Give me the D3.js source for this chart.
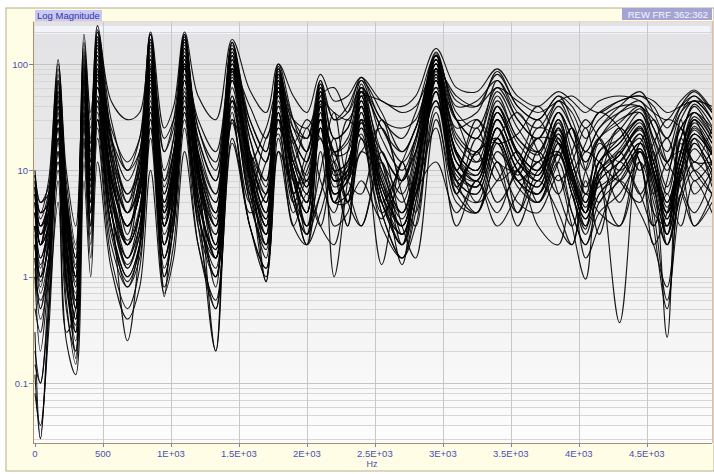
<!DOCTYPE html>
<html lang="en">
<head>
<meta charset="UTF-8">
<script src="https://d3js.org/d3.v7.min.js"></script>
<title>Log Magnitude</title>
<style>
  body { margin: 0; background: #ffffff; }
  svg { display: block; font-family: "Liberation Sans", Arial, sans-serif; }
</style>
</head>
<body>
<div id="chart"></div>
<script>
// frequency grid (Hz) shared by every measured FRF
const freqHz = [0, 40, 100, 170, 230, 300, 360, 410,
  460, 560, 680, 770, 850, 950, 1020, 1100,
  1200, 1330, 1450, 1580, 1700, 1790, 1900, 2000,
  2100, 2200, 2300, 2400, 2550, 2700, 2800, 2950,
  3100, 3250, 3400, 3550, 3700, 3850, 3950, 4050,
  4150, 4300, 4450, 4550, 4650, 4750, 4850, 4980];

// magnitudes, one row per FRF
const responses = [
  [9, 4, 8, 110, 10, 3, 70, 25, 230, 45, 30, 35, 200, 25, 40, 200, 50, 30, 170, 57, 35, 100, 50, 35, 80, 45, 50, 75, 45, 40, 50, 140, 60, 55, 90, 50, 40, 55, 45, 35, 45, 50, 45, 35, 30, 45, 57, 37],
  [6, 2, 5, 70, 6, 1.5, 190, 35, 120, 20, 8, 15, 150, 8, 20, 180, 25, 12, 140, 30, 15, 90, 25, 15, 65, 20, 25, 60, 25, 15, 25, 120, 35, 25, 60, 30, 20, 40, 25, 15, 25, 35, 40, 25, 15, 35, 50, 30],
  [0.3, 0.03, 0.5, 25, 2, 0.17, 40, 6, 50, 6, 1.2, 3, 90, 2, 6, 70, 8, 0.8, 80, 10, 2.5, 60, 8, 3, 10, 35, 8, 6, 30, 6, 3, 90, 10, 25, 8, 12, 30, 10, 3, 0.95, 10, 25, 12, 3, 8, 25, 10, 6],
  [2, 0.8, 2.5, 45, 3, 0.6, 90, 12, 160, 15, 2.5, 10, 110, 4, 12, 130, 12, 2, 100, 12, 4, 70, 10, 5, 45, 8, 10, 50, 7, 3, 10, 100, 15, 10, 40, 15, 10, 25, 10, 4, 12, 18, 30, 12, 4, 15, 30, 18],
  [10, 5, 6, 30, 4, 1, 60, 10, 100, 8, 3, 6, 80, 3, 10, 120, 10, 2, 120, 10, 3, 50, 12, 25, 8, 4, 15, 40, 5, 2, 8, 80, 6, 20, 10, 4, 15, 8, 12, 25, 8, 3, 15, 8, 0.27, 30, 10, 15],
  [1, 0.2, 1, 15, 0.8, 0.3, 25, 4, 60, 5, 0.25, 2, 50, 1.5, 4, 60, 5, 0.2, 50, 6, 1.5, 40, 6, 2, 30, 5, 5, 35, 4, 1.5, 4, 70, 8, 4, 15, 8, 5, 12, 4, 2, 5, 8, 15, 5, 2, 6, 12, 8],
  [4, 1.5, 3, 80, 5, 1.2, 120, 15, 180, 18, 4, 12, 160, 0.65, 8, 150, 14, 3, 130, 15, 0.9, 80, 12, 6, 55, 10, 12, 55, 10, 4, 12, 110, 18, 12, 40, 18, 12, 30, 12, 5, 12, 20, 30, 12, 5, 15, 35, 20],
  [3, 1, 2, 40, 2, 0.5, 50, 8, 80, 15, 6, 10, 70, 6, 15, 90, 20, 8, 90, 12, 25, 60, 18, 30, 20, 12, 30, 20, 12, 6, 15, 90, 25, 30, 18, 22, 40, 18, 10, 18, 35, 25, 10, 18, 30, 25, 12, 25],
  [7, 3, 4, 20, 1.5, 0.4, 35, 5, 45, 4, 1.5, 3, 40, 2, 5, 50, 4, 1, 40, 5, 2, 30, 3, 6, 3, 12, 5, 3, 15, 3, 1.5, 30, 6, 4, 12, 3, 8, 4, 2, 6, 4, 3, 12, 2, 4, 10, 3, 6],
  [0.15, 0.1, 0.8, 50, 3, 0.8, 80, 10, 140, 12, 2, 8, 130, 5, 10, 110, 10, 1.5, 110, 10, 3, 70, 9, 4, 40, 7, 9, 45, 6, 2.5, 8, 100, 14, 8, 35, 14, 8, 25, 9, 4, 10, 14, 25, 10, 3, 12, 25, 15],
  [5, 2, 4, 12, 1, 0.3, 20, 3, 30, 3, 1, 2, 30, 1, 3, 40, 3, 0.5, 30, 3, 1.2, 20, 4, 8, 3, 2, 6, 3, 12, 2.5, 6, 25, 3, 8, 4, 10, 3, 2, 6, 1.5, 3, 8, 4, 2, 0.8, 6, 3, 5],
  [2, 1, 2, 30, 3, 1, 40, 8, 70, 8, 3, 6, 60, 4, 8, 80, 10, 4, 70, 15, 8, 80, 20, 12, 70, 20, 25, 70, 20, 10, 20, 130, 30, 20, 70, 30, 20, 45, 25, 12, 20, 35, 45, 25, 12, 30, 45, 30],
  [8, 4, 5, 60, 5, 1.5, 90, 12, 150, 10, 4, 8, 100, 5, 12, 140, 12, 0.2, 110, 12, 4, 60, 10, 5, 40, 8, 10, 40, 6, 3, 8, 80, 10, 8, 25, 10, 6, 18, 8, 3, 8, 0.37, 18, 8, 3, 10, 20, 12],
  [1.5, 0.5, 1.5, 10, 0.6, 0.15, 15, 2, 25, 2, 0.8, 1.5, 20, 0.8, 2, 25, 2, 0.5, 20, 3, 1, 15, 6, 2, 4, 10, 3, 15, 8, 1.3, 6, 12, 4, 8, 3, 6, 12, 3, 2, 8, 2.5, 12, 6, 3, 6, 3, 8, 4],
  [6, 3, 5, 90, 8, 2, 140, 20, 200, 22, 5, 14, 190, 8, 15, 190, 15, 4, 160, 15, 5, 90, 15, 7, 60, 10, 12, 60, 8, 4, 10, 120, 15, 10, 40, 15, 10, 30, 12, 6, 15, 20, 35, 15, 6, 20, 40, 22],
  [0.08, 0.04, 0.3, 8, 0.5, 0.2, 12, 1.5, 20, 1.5, 0.5, 1.2, 25, 1, 3, 35, 3, 1, 35, 4, 6, 25, 10, 3, 6, 15, 5, 25, 10, 4, 10, 45, 6, 15, 5, 10, 20, 6, 3, 10, 20, 8, 5, 15, 2, 6, 20, 7],
  [3, 1.2, 3, 35, 2, 0.7, 55, 9, 90, 7, 2, 4, 80, 3, 8, 100, 8, 2, 90, 9, 3, 55, 8, 4, 35, 6, 8, 40, 5, 2.5, 7, 70, 10, 7, 25, 10, 7, 20, 8, 4, 8, 12, 22, 9, 4, 10, 22, 14],
  [9, 5, 7, 40, 3, 1, 70, 12, 60, 20, 10, 15, 100, 15, 25, 120, 25, 10, 100, 25, 12, 70, 20, 12, 55, 15, 18, 55, 15, 8, 18, 100, 22, 15, 50, 20, 15, 35, 20, 10, 20, 28, 40, 20, 10, 25, 35, 22],
  [0.5, 0.3, 1.5, 25, 0.3, 0.5, 35, 5, 70, 5, 2, 4, 60, 3, 6, 70, 6, 1.5, 60, 7, 2.5, 40, 20, 8, 30, 12, 5, 30, 15, 8, 20, 60, 30, 12, 20, 35, 15, 6, 15, 30, 20, 10, 18, 30, 12, 8, 18, 10],
  [4, 2, 3, 50, 4, 1, 75, 10, 110, 9, 3, 7, 90, 4, 10, 100, 10, 3, 90, 8, 0.9, 70, 8, 8, 40, 1, 8, 50, 6, 2, 7, 90, 12, 8, 30, 12, 8, 22, 8, 4, 10, 15, 25, 10, 4, 12, 28, 16],
  [2.5, 1, 2, 20, 1.2, 0.4, 30, 4, 40, 4, 1.5, 3, 35, 2, 4, 45, 5, 1.5, 45, 15, 6, 35, 6, 15, 30, 6, 8, 15, 25, 8, 15, 60, 9, 7, 25, 9, 20, 18, 7, 3.5, 8, 25, 12, 4, 3, 20, 12, 12],
  [5, 2, 4, 30, 3, 1, 50, 8, 80, 8, 3, 6, 70, 4, 8, 90, 12, 5, 90, 30, 15, 80, 30, 20, 70, 30, 35, 75, 30, 25, 30, 100, 45, 40, 80, 40, 30, 50, 40, 25, 35, 45, 50, 40, 25, 40, 50, 35],
  [0.2, 0.1, 0.5, 5, 0.25, 0.12, 8, 1, 12, 1.2, 0.4, 0.8, 10, 0.7, 1.5, 15, 2, 0.6, 18, 3, 1.2, 15, 3, 2, 15, 3, 4, 20, 3, 1.5, 3, 35, 5, 4, 12, 5, 4, 9, 4, 2, 4, 6, 12, 4, 0.6, 5, 10, 6],
  [7, 3, 5, 55, 4, 1.2, 100, 15, 170, 12, 4, 8, 140, 6, 14, 160, 14, 5, 130, 14, 5, 85, 14, 7, 55, 10, 12, 55, 9, 3.5, 10, 110, 15, 10, 35, 15, 10, 28, 10, 5, 12, 18, 30, 14, 5, 15, 32, 20],
  [1, 0.6, 1.2, 15, 1, 0.25, 25, 3, 35, 3, 1, 2, 30, 1.2, 3, 35, 4, 1.2, 30, 8, 2, 25, 10, 2.5, 6, 20, 5, 8, 3.5, 12, 4, 40, 15, 5, 8, 15, 5, 12, 25, 10, 5, 15, 6, 12, 20, 7, 4, 9],
  [6, 2.5, 4, 70, 6, 1.8, 110, 18, 200, 14, 5, 10, 170, 7, 15, 170, 18, 6, 150, 20, 7, 95, 18, 9, 65, 14, 15, 65, 12, 5, 14, 125, 20, 14, 45, 20, 14, 35, 15, 7, 15, 24, 38, 18, 7, 20, 42, 26],
  [3, 1.3, 2.5, 18, 0.9, 0.35, 28, 4, 50, 4, 1.3, 2.5, 45, 2.5, 5, 55, 5, 1.8, 50, 6, 20, 30, 5, 2.5, 25, 10, 3, 28, 12, 2, 10, 55, 7, 15, 18, 4, 10, 14, 6, 2.8, 12, 5, 16, 7, 2.5, 18, 6, 10],
  [4, 2, 3, 40, 3, 0.9, 65, 9, 100, 9, 3, 6, 85, 4, 9, 100, 9, 3, 85, 9, 3, 55, 8, 4, 35, 6, 8, 35, 5, 2.5, 6, 75, 10, 7, 25, 10, 7, 18, 7, 3.5, 8, 12, 20, 3, 0.5, 10, 22, 14],
  [8, 3.5, 6, 25, 2, 0.6, 45, 7, 75, 6, 2, 4, 65, 3, 7, 80, 7, 2.5, 70, 8, 3.5, 45, 8, 4, 30, 15, 8, 30, 1.3, 12, 6, 70, 10, 30, 12, 10, 25, 20, 8, 4, 18, 12, 22, 9, 3.5, 10, 22, 14],
  [2, 0.7, 1.5, 12, 1.5, 0.5, 18, 2.5, 30, 2.5, 0.9, 1.8, 25, 1.5, 3.5, 30, 3.5, 1.5, 28, 5, 12, 22, 5, 10, 20, 5, 12, 22, 4, 8, 15, 45, 8, 6, 20, 8, 6, 15, 25, 6, 7, 10, 18, 12, 2.5, 9, 30, 11],
  [5, 2, 6, 100, 6, 0.5, 160, 30, 210, 30, 10, 20, 190, 15, 30, 190, 20, 8, 160, 25, 12, 60, 25, 20, 50, 60, 35, 60, 30, 20, 35, 120, 40, 45, 70, 35, 25, 45, 35, 20, 30, 40, 40, 30, 20, 35, 45, 30],
  [3, 1, 4, 70, 4, 0.8, 130, 12, 180, 20, 6, 12, 170, 10, 20, 170, 15, 6, 140, 20, 8, 100, 30, 15, 60, 30, 40, 70, 35, 15, 25, 100, 30, 20, 55, 25, 15, 35, 20, 12, 20, 30, 35, 20, 12, 25, 35, 25],
  [1.2, 0.4, 1, 30, 2, 0.3, 60, 6, 90, 6, 1.5, 4, 90, 3, 8, 90, 6, 1.5, 70, 8, 2, 35, 6, 12, 25, 5, 10, 25, 5, 12, 25, 70, 8, 15, 20, 8, 12, 15, 8, 15, 12, 8, 15, 6, 12, 15, 8, 12],
  [6, 4, 5, 55, 5, 1.5, 80, 18, 130, 25, 12, 20, 110, 20, 30, 100, 30, 15, 90, 40, 20, 55, 30, 25, 45, 35, 30, 50, 45, 35, 40, 90, 50, 40, 60, 45, 35, 45, 50, 40, 35, 45, 50, 45, 35, 40, 45, 40],
  [0.12, 0.03, 0.4, 15, 1, 0.2, 20, 3, 30, 3, 0.8, 2, 35, 1.5, 4, 40, 4, 1, 45, 5, 1.8, 35, 5, 2.5, 25, 5, 6, 30, 4, 1.5, 5, 55, 7, 5, 18, 7, 5, 14, 6, 2.5, 6, 9, 16, 6, 2, 8, 16, 9],
  [4, 2.5, 3.5, 65, 5, 1.3, 100, 14, 150, 12, 4, 7, 120, 5, 12, 140, 13, 4, 120, 13, 5, 75, 12, 6, 50, 9, 11, 50, 8, 3, 9, 100, 14, 9, 35, 14, 9, 25, 10, 4.5, 10, 16, 28, 12, 4.5, 14, 30, 18],
  [2, 0.9, 2, 35, 2.5, 0.5, 50, 7, 85, 7, 2.2, 4.5, 75, 3.5, 8, 95, 9, 2.5, 85, 10, 3.5, 60, 10, 5, 40, 8, 10, 40, 7, 3, 8, 85, 12, 9, 30, 12, 9, 22, 9, 4, 9, 14, 24, 10, 3.5, 12, 24, 14],
  [3, 1.5, 3, 25, 2, 0.6, 35, 5, 60, 6, 2, 4, 55, 3, 7, 70, 8, 3, 75, 12, 6, 50, 12, 8, 45, 15, 20, 55, 25, 12, 20, 110, 30, 35, 85, 40, 30, 50, 30, 15, 25, 40, 55, 35, 20, 40, 55, 35],
  [7, 2.5, 5, 45, 3.5, 1, 70, 10, 120, 9, 3, 6, 95, 4.5, 10, 110, 11, 3.5, 100, 11, 4, 65, 10, 5, 42, 8, 9, 45, 7, 3, 8, 90, 12, 8, 30, 12, 8, 24, 9, 4, 9, 14, 26, 10, 4, 12, 26, 15],
  [1.5, 0.5, 1.2, 20, 1.5, 0.4, 30, 4, 45, 4, 1.2, 2.5, 40, 2, 5, 50, 5, 1.8, 45, 6, 2.5, 30, 6, 3, 25, 5, 6, 28, 5, 2, 5, 55, 8, 6, 20, 8, 6, 15, 6, 3, 6, 10, 18, 7, 2.5, 9, 18, 10]
];

const xTicks = [0, 500, 1000, 1500, 2000, 2500, 3000, 3500, 4000, 4500];
const xTickLabels = ["0", "500", "1E+03", "1.5E+03", "2E+03", "2.5E+03", "3E+03", "3.5E+03", "4E+03", "4.5E+03"];
const yTicks = [0.1, 1, 10, 100];
const yTickLabels = ["0.1", "1", "10", "100"];

const W = 714, H = 474;
const plot = { left: 33, right: 712, top: 21, bottom: 443 };

const svg = d3.select("#chart").append("svg").attr("width", W).attr("height", H);
const defs = svg.append("defs");

const grad = defs.append("linearGradient").attr("id", "bg").attr("x1", 0).attr("y1", 0).attr("x2", 0).attr("y2", 1);
grad.append("stop").attr("offset", "0%").attr("stop-color", "#e2e2e4");
grad.append("stop").attr("offset", "45%").attr("stop-color", "#ececec");
grad.append("stop").attr("offset", "100%").attr("stop-color", "#fdfdfd");

defs.append("clipPath").attr("id", "clip").append("rect")
  .attr("x", plot.left).attr("y", plot.top)
  .attr("width", plot.right - plot.left).attr("height", plot.bottom - plot.top);

// outer panel
svg.append("rect").attr("x", 6).attr("y", 8).attr("width", W - 6).attr("height", 463)
  .attr("fill", "#fffde6").attr("stroke", "#b5ae8a").attr("stroke-width", 1);

// plot background
svg.append("rect").attr("x", plot.left).attr("y", plot.top)
  .attr("width", plot.right - plot.left).attr("height", plot.bottom - plot.top)
  .attr("fill", "url(#bg)");
svg.append("rect").attr("x", plot.left + 2).attr("y", plot.top + 5)
  .attr("width", plot.right - plot.left - 4).attr("height", 8)
  .attr("fill", "#f3f3fa");

// scales
const x = d3.scaleLinear().domain([0, 4980]).range([35, plot.right]);
const y = d3.scaleLog().domain([0.0273, 254]).range([plot.bottom, plot.top]);

// grid
const grid = svg.append("g").attr("clip-path", "url(#clip)");
grid.selectAll("line.h").data(y.ticks()).enter().append("line")
  .attr("x1", plot.left).attr("x2", plot.right)
  .attr("y1", d => Math.round(y(d)) + 0.5).attr("y2", d => Math.round(y(d)) + 0.5)
  .attr("stroke", d => yTicks.includes(d) ? "#c4c4c4" : "#d6d6d6").attr("stroke-width", 1);
grid.selectAll("line.v").data(xTicks.slice(1)).enter().append("line")
  .attr("x1", d => Math.round(x(d)) + 0.5).attr("x2", d => Math.round(x(d)) + 0.5)
  .attr("y1", plot.top).attr("y2", plot.bottom)
  .attr("stroke", "#c8c8c8").attr("stroke-width", 1);

// curves
const line = d3.line().curve(d3.curveCatmullRom.alpha(0.5)).x((d, i) => x(freqHz[i])).y(d => y(d));
svg.append("g").attr("clip-path", "url(#clip)")
  .selectAll("path").data(responses).enter().append("path")
  .attr("d", line)
  .attr("fill", "none")
  .attr("stroke", "#000")
  .attr("stroke-width", 1.1)
  .attr("stroke-opacity", 0.9)
  .attr("stroke-linejoin", "round");

// plot frame
svg.append("line").attr("x1", plot.left + 0.5).attr("x2", plot.left + 0.5).attr("y1", plot.top).attr("y2", plot.bottom + 1)
  .attr("stroke", "#a88f6e");
svg.append("line").attr("x1", plot.left).attr("x2", plot.right).attr("y1", plot.bottom + 0.5).attr("y2", plot.bottom + 0.5)
  .attr("stroke", "#a88f6e");
svg.append("line").attr("x1", plot.right + 0.5).attr("x2", plot.right + 0.5).attr("y1", plot.top).attr("y2", plot.bottom)
  .attr("stroke", "#e6b8b0");
svg.append("line").attr("x1", plot.left).attr("x2", plot.right).attr("y1", plot.top + 0.5).attr("y2", plot.top + 0.5)
  .attr("stroke", "#eed8c8");

// axis labels
const blue = "#4a4fb0";
const yAx = svg.append("g");
yAx.selectAll("line").data(yTicks).enter().append("line")
  .attr("x1", plot.left - 4).attr("x2", plot.left)
  .attr("y1", d => Math.round(y(d)) + 0.5).attr("y2", d => Math.round(y(d)) + 0.5)
  .attr("stroke", "#8080a0");
yAx.selectAll("text").data(yTicks).enter().append("text")
  .attr("x", plot.left - 5).attr("y", d => y(d) + 3.5)
  .attr("text-anchor", "end").attr("font-size", 9.5).attr("fill", blue)
  .text((d, i) => yTickLabels[i]);

const xAx = svg.append("g");
xAx.selectAll("line").data(xTicks).enter().append("line")
  .attr("x1", d => Math.round(x(d)) + 0.5).attr("x2", d => Math.round(x(d)) + 0.5)
  .attr("y1", plot.bottom).attr("y2", plot.bottom + 4)
  .attr("stroke", "#8080a0");
xAx.selectAll("text").data(xTicks).enter().append("text")
  .attr("x", d => x(d)).attr("y", plot.bottom + 14)
  .attr("text-anchor", "middle").attr("font-size", 9.5).attr("fill", blue)
  .text((d, i) => xTickLabels[i]);
svg.append("text").attr("x", 372).attr("y", 467).attr("text-anchor", "middle")
  .attr("font-size", 9).attr("fill", blue).text("Hz");

// header boxes
svg.append("rect").attr("x", 35).attr("y", 10).attr("width", 67).attr("height", 11).attr("fill", "#c9c9f2");
svg.append("text").attr("x", 37).attr("y", 19).attr("font-size", 9.5).attr("fill", "#2e34a8").text("Log Magnitude");
svg.append("rect").attr("x", 622).attr("y", 8).attr("width", 90).attr("height", 12).attr("fill", "#a4a4d4");
svg.append("text").attr("x", 708).attr("y", 17.5).attr("text-anchor", "end").attr("font-size", 9.5)
  .attr("fill", "#f4f4ff").text("REW FRF 362:362");
</script>
</body>
</html>
